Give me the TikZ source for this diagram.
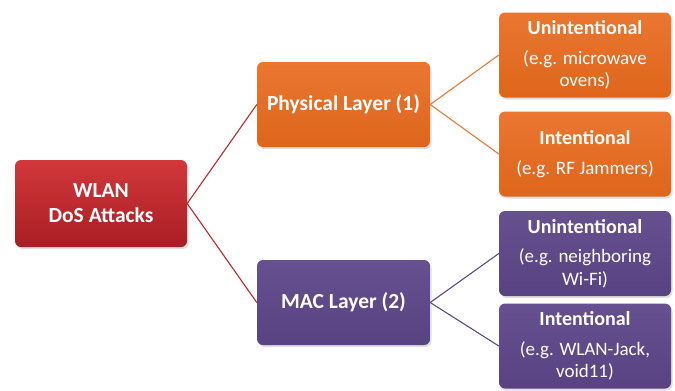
\documentclass[tikz,border=0pt]{standalone}
\usepackage{fontspec}
\setmainfont{Carlito}
\usetikzlibrary{shadows}
\definecolor{redtop}{HTML}{D2373B}
\definecolor{redbot}{HTML}{A81E24}
\definecolor{orgtop}{HTML}{EA7630}
\definecolor{orgbot}{HTML}{DE661C}
\definecolor{purtop}{HTML}{66508F}
\definecolor{purbot}{HTML}{584282}
\definecolor{redline}{HTML}{B8282E}
\definecolor{orgline}{HTML}{E57A3A}
\definecolor{purline}{HTML}{5E4A88}
\newcommand{\ttl}[1]{{\fontsize{20}{23}\selectfont\bfseries #1}}
\tikzset{
  box/.style={rounded corners=6pt, text=white, align=center, inner sep=2pt,
    drop shadow={opacity=0.25, shadow xshift=1.5pt, shadow yshift=-2pt}},
  redbox/.style={box, top color=redtop, bottom color=redbot, minimum width=172pt, minimum height=87pt, font=\fontsize{21.5}{25}\selectfont\bfseries},
  midorg/.style={box, top color=orgtop, bottom color=orgbot, minimum width=173pt, minimum height=85pt, font=\fontsize{21.5}{25}\selectfont\bfseries},
  midpur/.style={box, top color=purtop, bottom color=purbot, minimum width=173pt, minimum height=85pt, font=\fontsize{21.5}{25}\selectfont\bfseries},
  leaforg/.style={box, top color=orgtop, bottom color=orgbot, minimum width=172pt, minimum height=85pt, font=\fontsize{19}{22.5}\selectfont},
  leafpur/.style={box, top color=purtop, bottom color=purbot, minimum width=172pt, minimum height=85pt, font=\fontsize{19}{22.5}\selectfont},
  conn/.style={line width=1.1pt}
}
\begin{document}
\begin{tikzpicture}[x=1pt,y=-1pt]
\useasboundingbox (0,0) rectangle (675,391);
\node[redbox] (wlan) at (101,203.5) {WLAN\\DoS Attacks};
\node[midorg] (phy) at (343.5,104.5) {Physical Layer (1)};
\node[midpur] (mac) at (343.5,302.5) {MAC Layer (2)};
\node[leaforg] (pu) at (585,55) {\ttl{Unintentional}\\[7pt](e.g. microwave\\ovens)};
\node[leaforg] (pi) at (585,154) {\ttl{Intentional}\\[7pt](e.g. RF Jammers)};
\node[leafpur] (mu) at (585,253.5) {\ttl{Unintentional}\\[7pt](e.g. neighboring\\Wi-Fi)};
\node[leafpur] (mi) at (585,346) {\ttl{Intentional}\\[7pt](e.g. WLAN-Jack,\\void11)};
\draw[conn, redline] (wlan.east) -- (phy.west);
\draw[conn, redline] (wlan.east) -- (mac.west);
\draw[conn, orgline] (phy.east) -- (pu.west);
\draw[conn, orgline] (phy.east) -- (pi.west);
\draw[conn, purline] (mac.east) -- (mu.west);
\draw[conn, purline] (mac.east) -- (mi.west);
\end{tikzpicture}
\end{document}
